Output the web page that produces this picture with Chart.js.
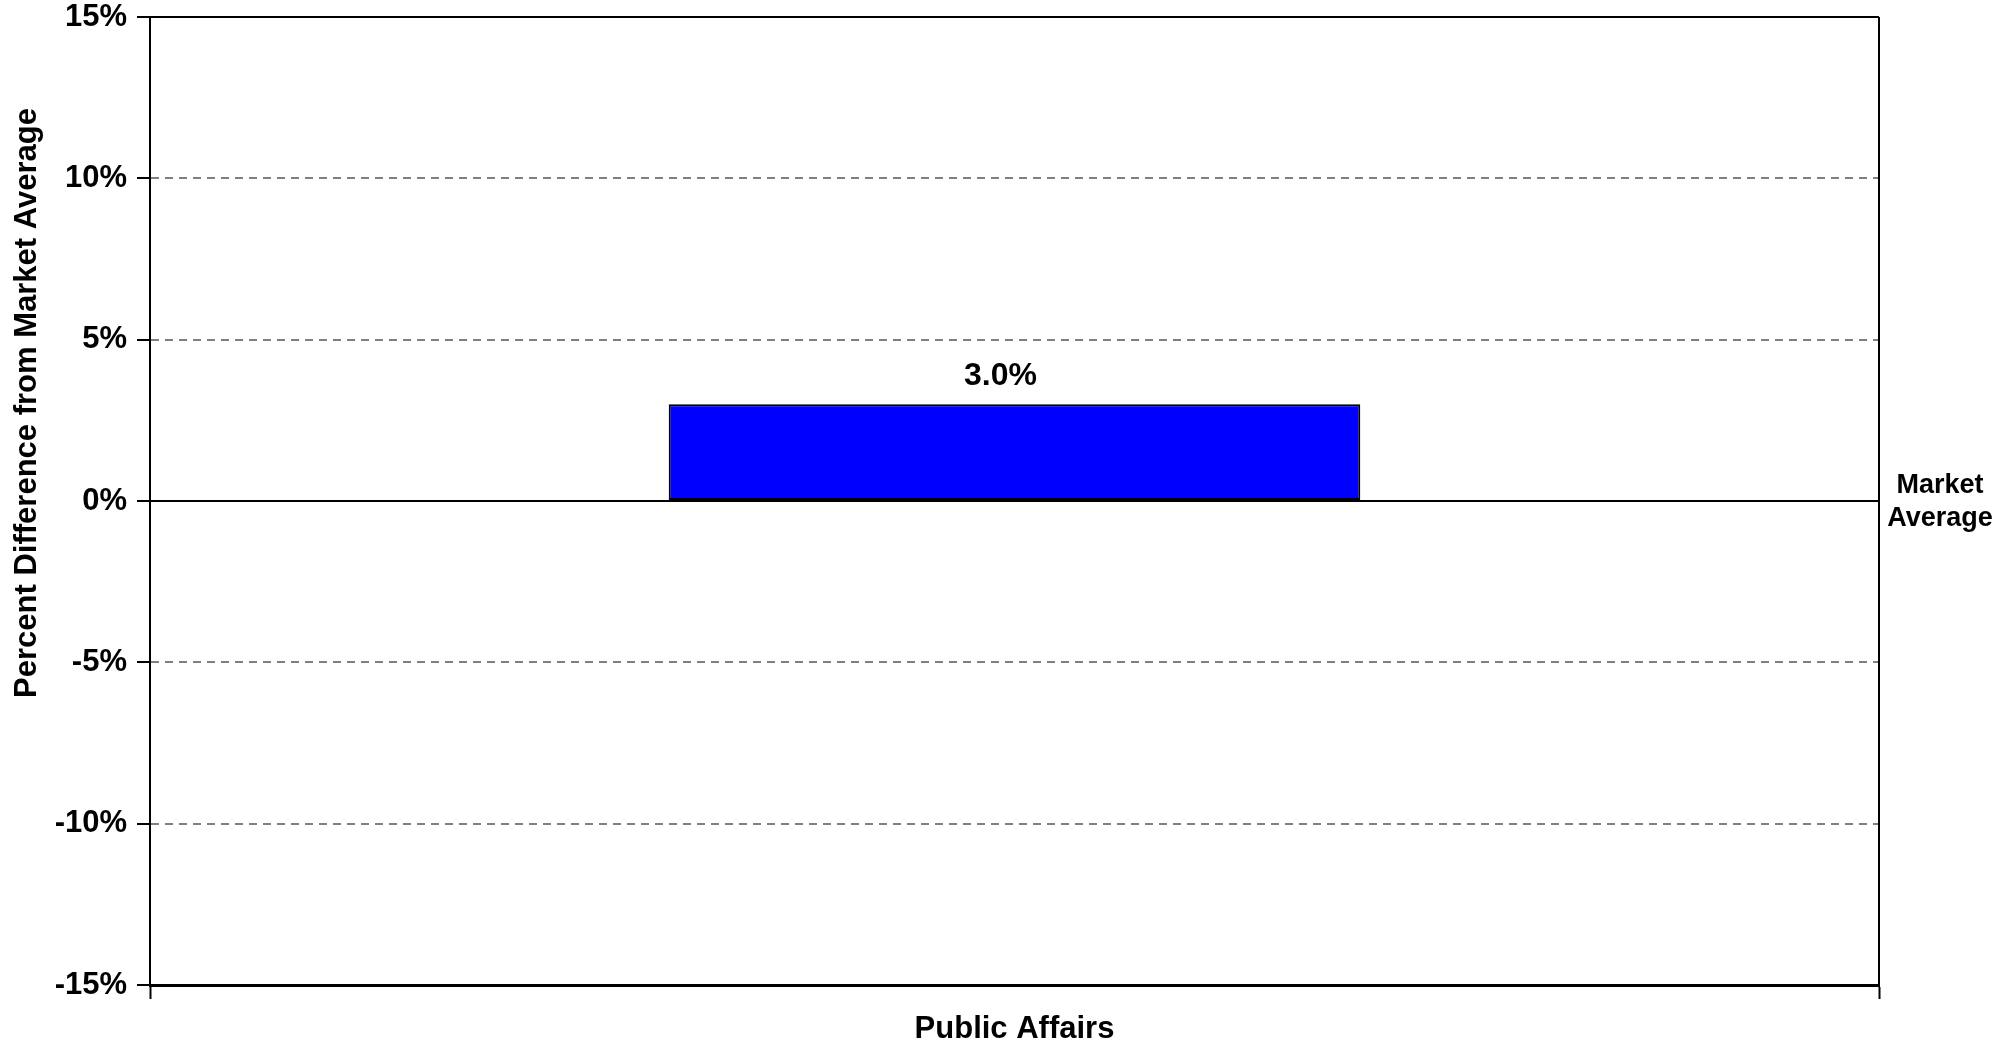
<!DOCTYPE html>
<html>
<head>
<meta charset="utf-8">
<script src="https://cdn.jsdelivr.net/npm/chart.js@4/dist/chart.umd.min.js"></script>
<style>
  html, body { margin: 0; padding: 0; background: #fff; }
  #wrap { width: 2009px; height: 1042px; position: relative; }
</style>
</head>
<body>
<div id="wrap"><canvas id="chart"></canvas></div>
<script>
const categories = ["Public Affairs"];
const diffValues = [3.0];
const yTicks = [-15, -10, -5, 0, 5, 10, 15];
const yTitle = "Percent Difference from Market Average";
const refLineLabel = ["Market", "Average"];

const FONT = "'Liberation Sans', Arial, Helvetica, sans-serif";

// extra text the library has no slot for: axis title, bar labels, the market line label, frame
const extras = {
  id: "extras",
  afterDatasetsDraw(chart) {
    const { ctx, chartArea, scales } = chart;
    ctx.save();
    ctx.fillStyle = "#000";

    // value labels above bars
    ctx.font = `bold 32px ${FONT}`;
    ctx.textAlign = "center";
    ctx.textBaseline = "middle";
    chart.getDatasetMeta(0).data.forEach((bar, i) => {
      ctx.fillText(`${diffValues[i].toFixed(1)}%`, bar.x - 14, bar.y - 28);
    });

    // right border of the plot
    ctx.strokeStyle = "#000";
    ctx.lineWidth = 2;
    ctx.beginPath();
    ctx.moveTo(chartArea.right, chartArea.top);
    ctx.lineTo(chartArea.right, chartArea.bottom);
    ctx.stroke();

    // "Market Average" next to the zero line
    const y0 = scales.y.getPixelForValue(0);
    ctx.font = `bold 27px ${FONT}`;
    ctx.textAlign = "center";
    ctx.fillText(refLineLabel[0], chartArea.right + 61, y0 - 15);
    ctx.fillText(refLineLabel[1], chartArea.right + 61, y0 + 18);

    // rotated y title
    ctx.font = `bold 31px ${FONT}`;
    ctx.translate(27, 403);
    ctx.rotate(-Math.PI / 2);
    ctx.fillText(yTitle, 0, 0);
    ctx.restore();
  }
};

new Chart(document.getElementById("chart"), {
  type: "bar",
  data: {
    labels: categories,
    datasets: [{
      data: diffValues,
      backgroundColor: "#0000ff",
      borderColor: "#000",
      borderWidth: 2,
      borderSkipped: false,
      categoryPercentage: 1,
      barPercentage: 0.4
    }]
  },
  options: {
    responsive: true,
    maintainAspectRatio: false,
    animation: false,
    layout: { padding: { top: 17, right: 130, bottom: 0, left: 0 } },
    plugins: {
      legend: { display: false },
      tooltip: { enabled: false }
    },
    scales: {
      x: {
        afterFit: (s) => { s.height = 57; },
        grid: {
          offset: true,
          drawOnChartArea: false,
          drawTicks: true,
          tickLength: 14,
          tickColor: "#000",
          tickWidth: 2
        },
        border: { display: true, color: "#000", width: 3 },
        ticks: {
          color: "#000",
          padding: 12,
          font: { family: FONT, size: 31, weight: "bold" }
        }
      },
      y: {
        min: -15,
        max: 15,
        afterFit: (s) => {
          s.width = 150;
          s.paddingTop = 0;
          s.paddingBottom = 0;
        },
        afterBuildTicks: (s) => { s.ticks = yTicks.map((v) => ({ value: v })); },
        grid: {
          color: (c) => (c.tick && (c.tick.value === 0 || c.tick.value === 15)) ? "#000" : "#808080",
          lineWidth: 2,
          tickLength: 13,
          tickColor: "#000",
          tickWidth: 2
        },
        border: {
          display: true,
          color: "#000",
          width: 2,
          dash: (c) => (c.tick && c.tick.value !== 0 && c.tick.value !== 15 && c.tick.value !== -15) ? [8, 6] : []
        },
        ticks: {
          color: "#000",
          padding: 10,
          font: { family: FONT, size: 31, weight: "bold" },
          callback: (v) => `${v}%`
        }
      }
    }
  },
  plugins: [extras]
});
</script>
</body>
</html>
